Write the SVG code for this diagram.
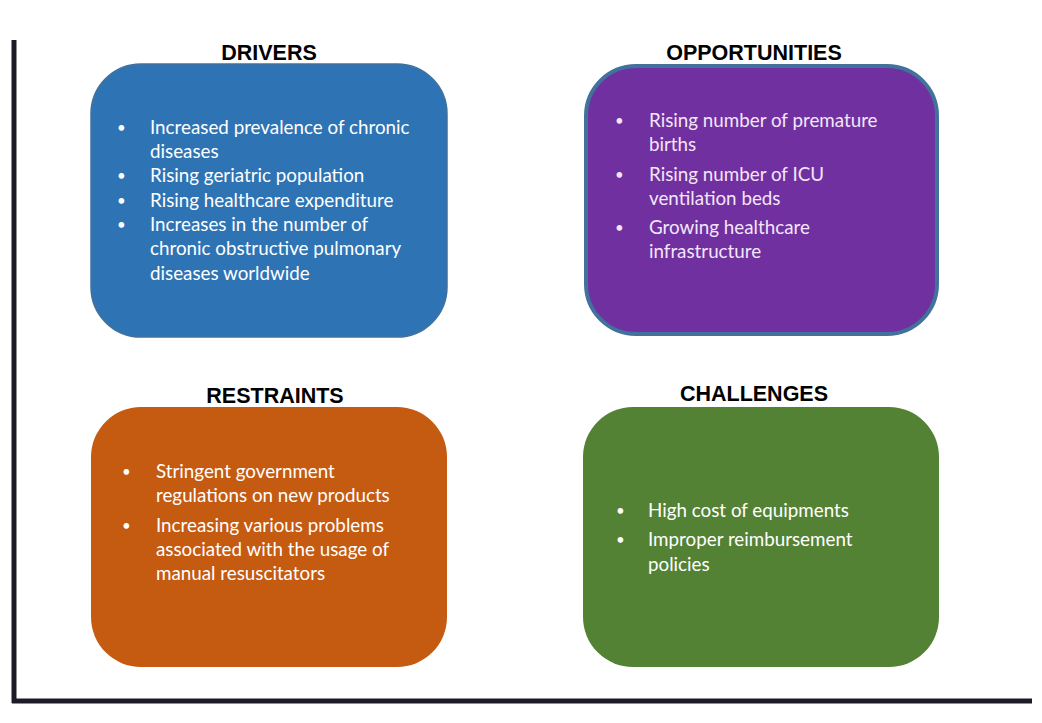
<svg xmlns="http://www.w3.org/2000/svg" width="1042" height="723" viewBox="0 0 1042 723">
<style>
.title{font-family:"Liberation Sans",Arial,sans-serif;font-weight:bold;font-size:21.5px;fill:#000;text-anchor:middle}
.body{font-family:Lato,"Liberation Sans",sans-serif;font-size:18.8px;fill:#ffffff}
.bul{font-size:15px}
.opp{fill:#f3e6fa}
.axis{stroke:#1c1c26;stroke-width:5;fill:none}
</style>
<rect width="1042" height="723" fill="#ffffff"/>
<g id="axes">
<line class="axis" x1="14" y1="40" x2="14" y2="703"/>
<line class="axis" x1="12" y1="701" x2="1032" y2="701"/>
</g>
<g id="drivers">
<text class="title" x="269" y="60">DRIVERS</text>
<rect x="91" y="64" width="356" height="273" rx="50" ry="50" fill="#2E74B5" stroke="#41719C" stroke-width="1.5"/>
<g class="body">
<text class="bul" x="117" y="133">•</text><text x="150" y="134">Increased prevalence of chronic</text>
<text x="150" y="158">diseases</text>
<text class="bul" x="117" y="181">•</text><text x="150" y="182">Rising geriatric population</text>
<text class="bul" x="117" y="206">•</text><text x="150" y="207">Rising healthcare expenditure</text>
<text class="bul" x="117" y="230">•</text><text x="150" y="231">Increases in the number of</text>
<text x="150" y="255">chronic obstructive pulmonary</text>
<text x="150" y="280">diseases worldwide</text>
</g>
</g>
<g id="opportunities">
<text class="title" x="754" y="60">OPPORTUNITIES</text>
<rect x="586" y="66" width="351" height="268" rx="50" ry="50" fill="#7030A0" stroke="#41719C" stroke-width="4"/>
<g class="body opp">
<text class="bul" x="615" y="126">•</text><text x="649" y="127">Rising number of premature</text>
<text x="649" y="151">births</text>
<text class="bul" x="615" y="180">•</text><text x="649" y="181">Rising number of ICU</text>
<text x="649" y="205">ventilation beds</text>
<text class="bul" x="615" y="233">•</text><text x="649" y="234">Growing healthcare</text>
<text x="649" y="258">infrastructure</text>
</g>
</g>
<g id="restraints">
<text class="title" x="275" y="403">RESTRAINTS</text>
<rect x="91" y="407" width="356" height="260" rx="50" ry="50" fill="#C55A11"/>
<g class="body">
<text class="bul" x="122" y="477">•</text><text x="156" y="478">Stringent government</text>
<text x="156" y="502">regulations on new products</text>
<text class="bul" x="122" y="531">•</text><text x="156" y="532">Increasing various problems</text>
<text x="156" y="556">associated with the usage of</text>
<text x="156" y="580">manual resuscitators</text>
</g>
</g>
<g id="challenges">
<text class="title" x="754" y="401">CHALLENGES</text>
<rect x="583" y="407" width="356" height="260" rx="50" ry="50" fill="#548235"/>
<g class="body">
<text class="bul" x="616" y="516">•</text><text x="648" y="517">High cost of equipments</text>
<text class="bul" x="616" y="545">•</text><text x="648" y="546">Improper reimbursement</text>
<text x="648" y="571">policies</text>
</g>
</g>
</svg>
